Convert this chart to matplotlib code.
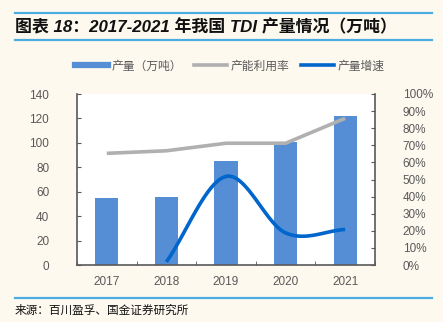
import numpy as np
import matplotlib
matplotlib.use("Agg")
import matplotlib.pyplot as plt
from matplotlib.lines import Line2D

plt.rcParams['font.family'] = ['Liberation Sans', 'Noto Sans CJK SC', 'DejaVu Sans']

years = ['2017', '2018', '2019', '2020', '2021']
output = [55, 56, 85, 101, 122]              # 万吨
utilization = [65.3, 66.8, 71.2, 71.2, 85.8]  # %
growth = [None, 1.8, 51.8, 18.8, 20.8]        # %

BG = '#FDF9EF'
BAR = '#558ED5'
GRAY = '#B0B0B0'
BLUE = '#0066CC'
TXT = '#595959'

def smooth(xs, ys, n=30):
    xs = np.asarray(xs, float); ys = np.asarray(ys, float)
    px = np.concatenate([[2*xs[0]-xs[1]], xs, [2*xs[-1]-xs[-2]]])
    py = np.concatenate([[2*ys[0]-ys[1]], ys, [2*ys[-1]-ys[-2]]])
    ox, oy = [], []
    for i in range(1, len(px)-2):
        t = np.linspace(0, 1, n)
        for p, o in ((px, ox), (py, oy)):
            p0, p1, p2, p3 = p[i-1], p[i], p[i+1], p[i+2]
            o.extend(0.5*((2*p1) + (-p0+p2)*t + (2*p0-5*p1+4*p2-p3)*t**2 + (-p0+3*p1-3*p2+p3)*t**3))
    return np.array(ox), np.array(oy)

W, H = 443, 322
fig = plt.figure(figsize=(W/100, H/100), dpi=100, facecolor=BG)

for y in (13, 40, 298):
    fig.add_artist(Line2D([15/W, 432/W], [1-y/H, 1-y/H], color='#4BACE0', lw=1.6))
fig.text(15/W, 1-26.5/H, '图表 18：2017-2021 年我国 TDI 产量情况（万吨）',
         fontsize=12.2, fontweight='bold', fontstyle='italic',
         family=['Liberation Sans', 'Noto Sans CJK SC'], va='center', ha='left', color='#111111')
fig.text(15/W, 1-310/H, '来源：百川盈孚、国金证券研究所', fontsize=8.4,
         family=['Noto Sans CJK SC'], va='center', ha='left', color='#111111')

L, R, T, B = 77, 375, 94, 265
ax = fig.add_axes([L/W, 1-B/H, (R-L)/W, (B-T)/H])
ax.set_facecolor('white')
x = np.arange(len(years))
ax.bar(x, output, width=0.39, color=BAR, zorder=2)
ax.set_xlim(-0.5, len(years)-0.5)
ax.set_ylim(0, 140)
ax.set_yticks(np.arange(0, 141, 20))
ax.set_xticks(x)
ax.set_xticklabels(years)
ax.set_xticks(np.arange(-0.5, len(years), 1), minor=True)
ax.tick_params(axis='x', which='major', length=0, pad=8, labelsize=8.5, labelcolor=TXT)
ax.tick_params(axis='x', which='minor', direction='in', length=3, color='#595959')
ax.tick_params(axis='y', direction='in', length=3, color='#595959', labelsize=8.5, labelcolor=TXT, pad=20)
for lab in ax.get_yticklabels():
    lab.set_horizontalalignment('right')
for s in ('left', 'bottom'):
    ax.spines[s].set_color('#595959'); ax.spines[s].set_linewidth(1.2)
ax.spines['top'].set_visible(False)
ax.spines['right'].set_visible(False)

ax2 = ax.twinx()
ax2.set_ylim(0, 100)
ax2.set_yticks(np.arange(0, 101, 10))
ax2.set_yticklabels([f'{v}%' for v in range(0, 101, 10)])
ax2.tick_params(axis='y', direction='in', length=3, color='#595959', labelsize=8.5, labelcolor=TXT, pad=20)
for lab in ax2.get_yticklabels():
    lab.set_horizontalalignment('left')
for s in ('top', 'left', 'bottom'):
    ax2.spines[s].set_visible(False)
ax2.spines['right'].set_color('#595959'); ax2.spines['right'].set_linewidth(1.2)

ax2.plot(x, utilization, color=GRAY, lw=2.6, solid_capstyle='butt', solid_joinstyle='round', zorder=3)
gx = [i for i, g in enumerate(growth) if g is not None]
gy = [g for g in growth if g is not None]
sx, sy = smooth(gx, gy, 30)
ax2.plot(sx, sy, color=BLUE, lw=2.6, solid_capstyle='butt', zorder=4)

handles = [Line2D([], [], color=BAR, lw=4.5),
           Line2D([], [], color=GRAY, lw=2.6),
           Line2D([], [], color=BLUE, lw=2.6)]
fig.legend(handles, ['产量（万吨）', '产能利用率', '产量增速'],
           loc='center', bbox_to_anchor=(230/W, 1-66/H), ncol=3, frameon=False,
           prop={'family': ['Noto Sans CJK SC'], 'size': 8.5}, labelcolor=TXT,
           handlelength=2.8, handletextpad=0.3, columnspacing=1.0)

fig.savefig('out.png', dpi=100, facecolor=BG)
